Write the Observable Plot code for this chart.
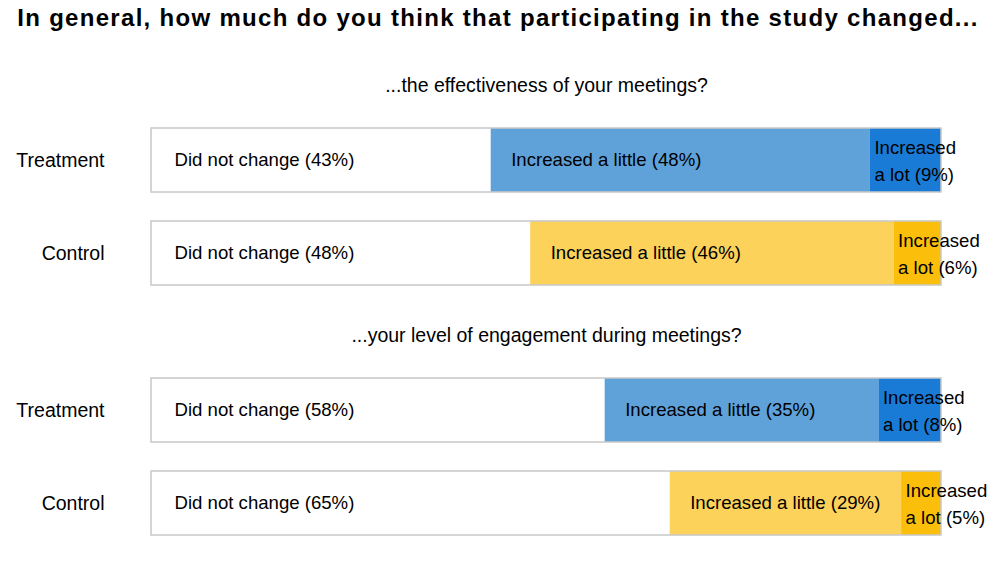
<!DOCTYPE html>
<html>
<head>
<meta charset="utf-8">
<script src="https://cdn.jsdelivr.net/npm/d3@7"></script>
<script src="https://cdn.jsdelivr.net/npm/@observablehq/plot@0.6"></script>
<style>
  body { margin: 0; background: #fff; font-family: "Liberation Sans", Arial, sans-serif; }
  #title { width: 996px; height: 40px; line-height: 36px; text-align: center; font-weight: bold; font-size: 24px; letter-spacing: 1.3px; color: #000; white-space: nowrap; }
  svg { display: block; }
</style>
</head>
<body>
<div id="title"></div>
<div id="charts"></div>
<script>
const titleText = "In general, how much do you think that participating in the study changed...";
const questions = ["...the effectiveness of your meetings?", "...your level of engagement during meetings?"];
const groups = ["Treatment", "Control"];
const categories = ["Did not change", "Increased a little", "Increased a lot"];
const q1Treatment = [43, 48, 9];
const q1Control = [48, 46, 6];
const q2Treatment = [58, 35, 8];
const q2Control = [65, 29, 5];
const panelValues = [[q1Treatment, q1Control], [q2Treatment, q2Control]];

const colors = {
  Treatment: ["#ffffff", "#5fa2da", "#1a7bd6"],
  Control: ["#ffffff", "#fcd25a", "#fbbf0b"]
};

const font = "Liberation Sans, Arial, sans-serif";
document.getElementById("title").textContent = titleText;

function labelFor(d) {
  if (d.category === "Increased a lot") return `Increased\na lot (${d.value}%)`;
  return `${d.category} (${d.value}%)`;
}

questions.forEach((q, qi) => {
  const data = [];
  groups.forEach((g, gi) => {
    categories.forEach((c, ci) => {
      data.push({group: g, category: c, value: panelValues[qi][gi][ci], color: colors[g][ci]});
    });
  });
  const stackOpts = {x: "value", y: "group", z: "category", order: categories, offset: "normalize"};
  const chart = Plot.plot({
    width: 996,
    height: 250,
    marginLeft: 151,
    marginRight: 55,
    marginTop: 87,
    marginBottom: 4,
    style: {fontFamily: font, fontSize: "18.6px", color: "#000", background: "#fff"},
    x: {domain: [0, 1], axis: null},
    y: {domain: groups, paddingInner: 0.3085, paddingOuter: 0, axis: null},
    marks: [
      Plot.barX(data, Plot.stackX({...stackOpts, fill: "color"})),
      Plot.barX(groups, {x1: 0, x2: 1, y: d => d, fill: "none", stroke: "#c8c8c8", strokeWidth: 1.5}),
      Plot.text(data, Plot.stackX1({...stackOpts, text: d => d.category === "Did not change" ? labelFor(d) : null, textAnchor: "start", dx: 23, fill: "#000"})),
      Plot.text(data, Plot.stackX1({...stackOpts, text: d => d.category === "Increased a little" ? labelFor(d) : null, textAnchor: "start", dx: 20, fill: "#000"})),
      Plot.text(data, Plot.stackX1({...stackOpts, text: d => d.category === "Increased a lot" ? labelFor(d) : null, textAnchor: "start", dx: 4, dy: -2, lineHeight: 1.45, fill: "#000"})),
      Plot.text(groups, {y: d => d, text: d => d, frameAnchor: "left", textAnchor: "end", dx: -47, fontSize: 19.5, fill: "#000"}),
      Plot.text([q], {text: d => d, frameAnchor: "top", lineAnchor: "middle", dy: -42, fontSize: 19.5, fill: "#000"})
    ]
  });
  document.getElementById("charts").appendChild(chart);
});
</script>
</body>
</html>
